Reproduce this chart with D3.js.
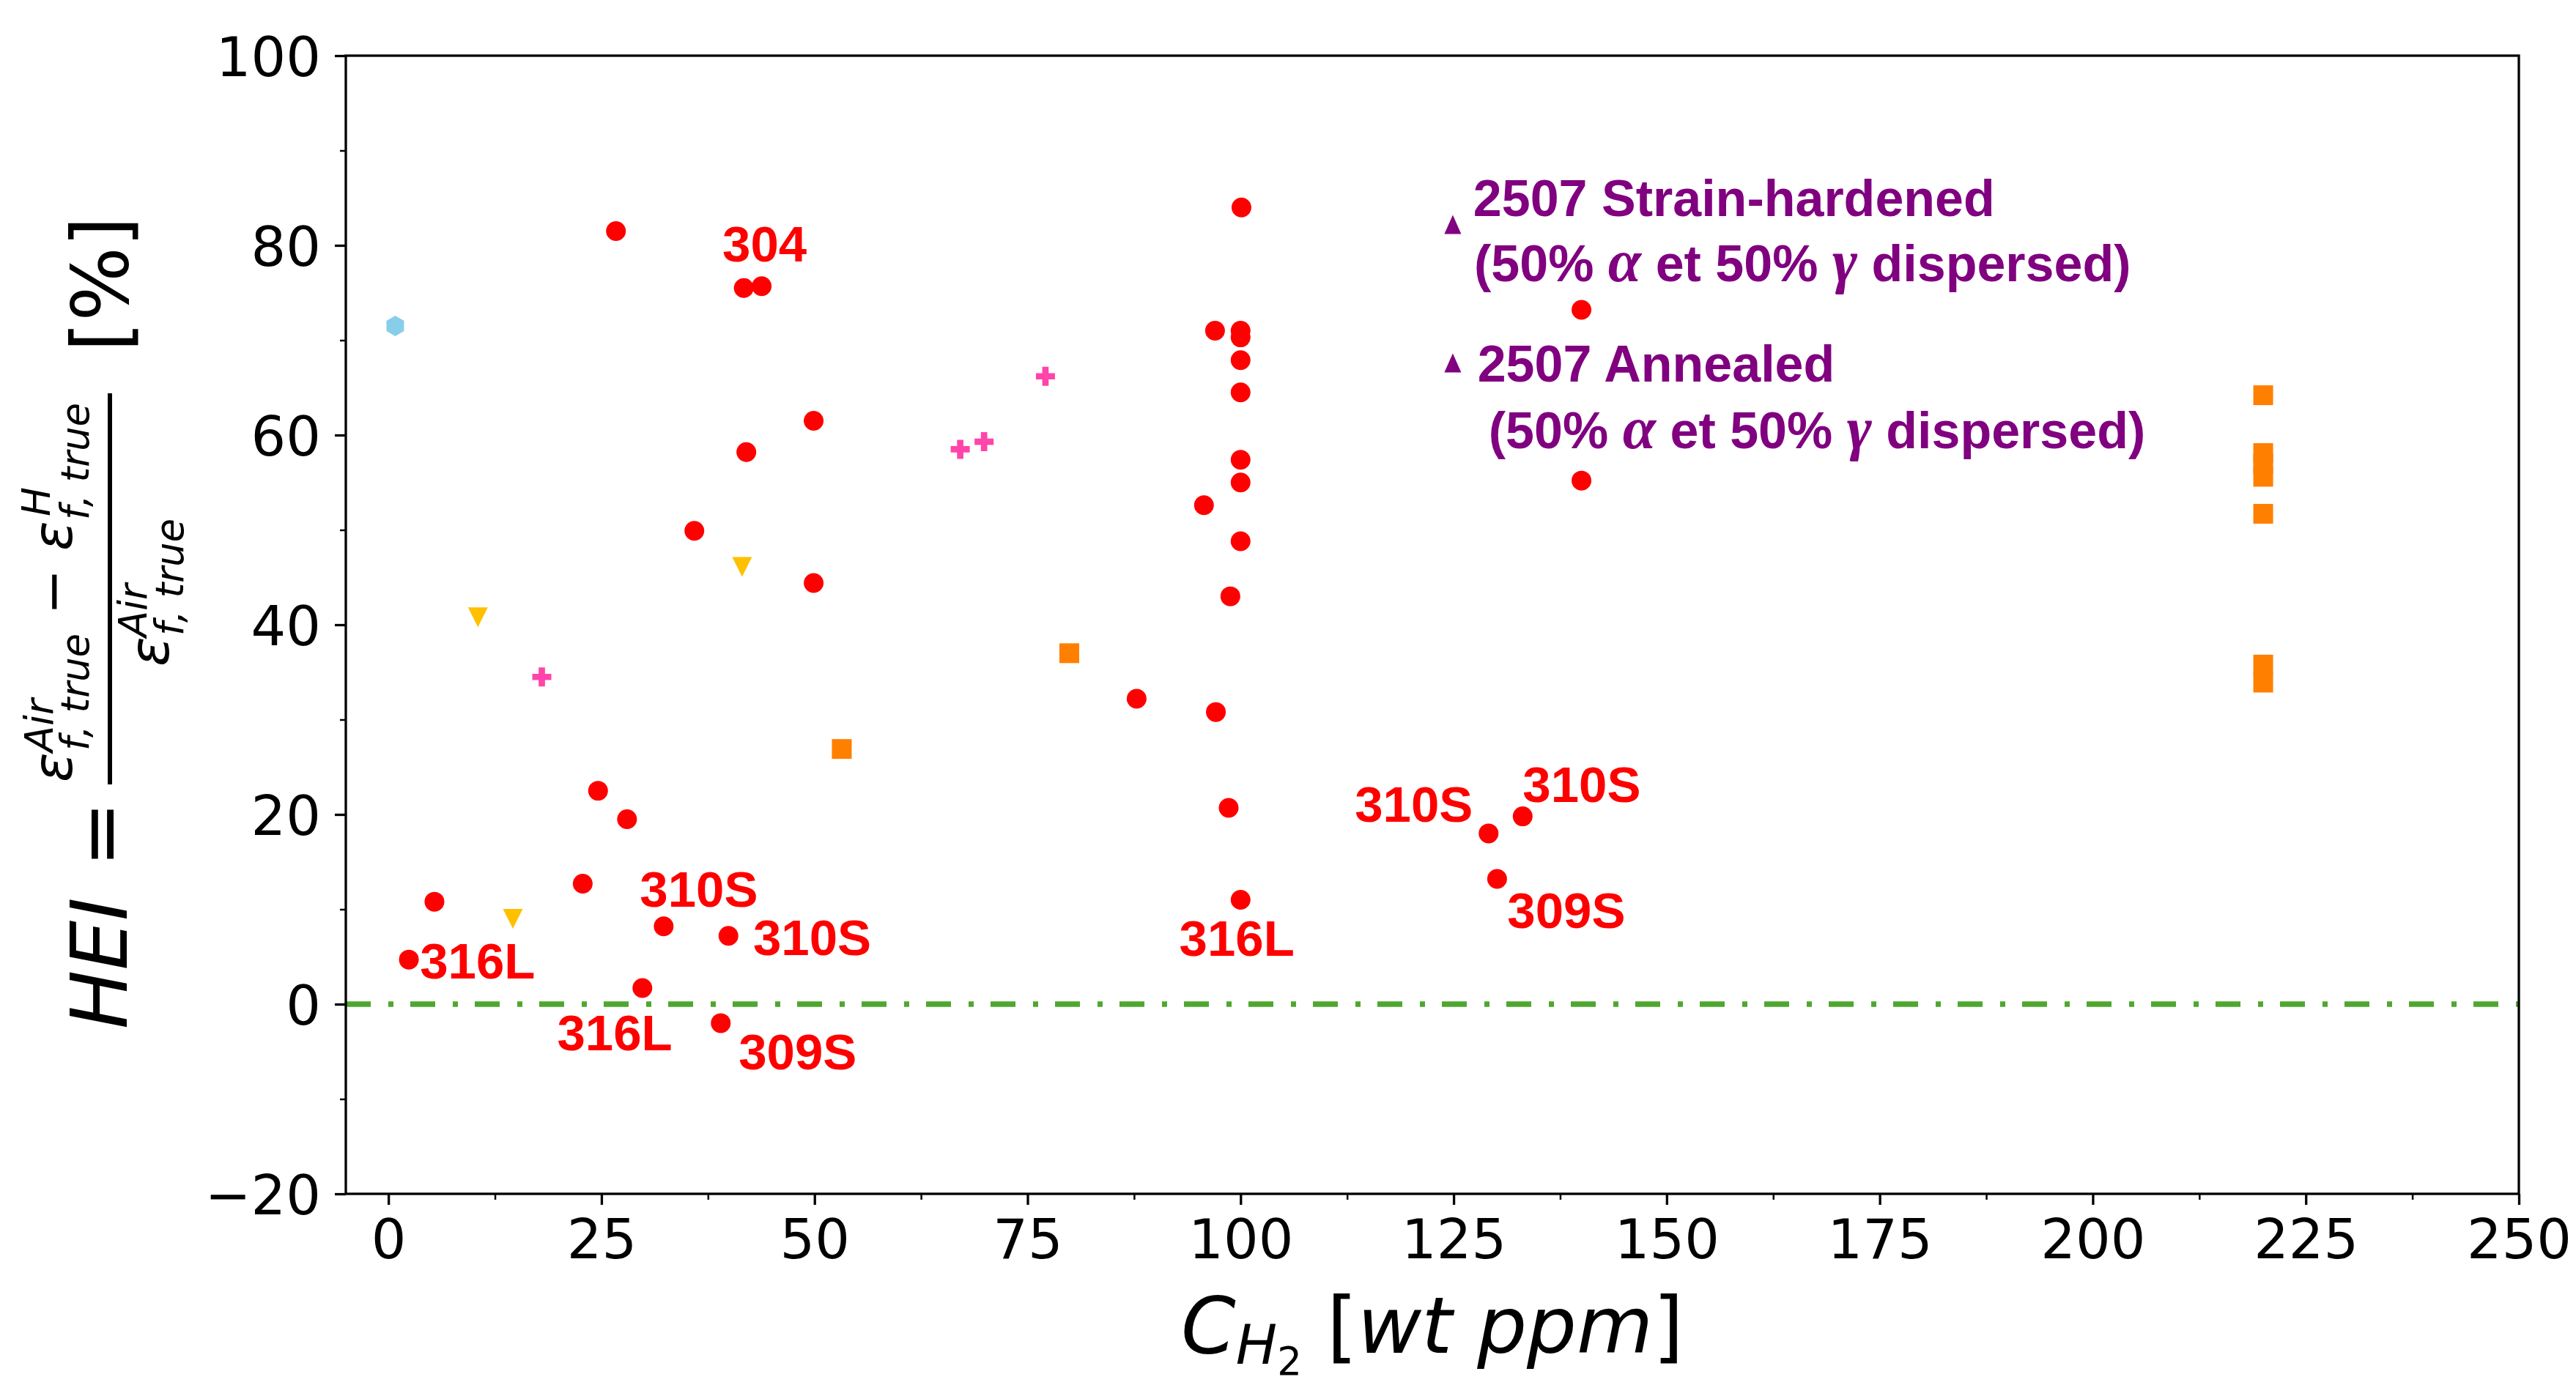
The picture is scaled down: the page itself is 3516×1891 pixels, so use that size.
<!DOCTYPE html>
<html>
<head>
<meta charset="utf-8">
<script src="https://cdn.jsdelivr.net/npm/d3@7"></script>
<style>
body { margin: 0; background: #fff; }
</style>
</head>
<body>
<script>
const W = 3516, H = 1891;

const xTicks = [0, 25, 50, 75, 100, 125, 150, 175, 200, 225, 250];
const xMinor = [12.5, 37.5, 62.5, 87.5, 112.5, 137.5, 162.5, 187.5, 212.5, 237.5];
const yTicks = [-20, 0, 20, 40, 60, 80, 100];
const yMinor = [-10, 10, 30, 50, 70, 90];

// [C_H2 wt ppm, HEI %]
const redCircles = [
    [26.7, 81.5], [41.7, 75.5], [43.8, 75.7], [42.0, 58.2], [49.9, 61.5],
    [35.9, 49.9], [49.9, 44.4], [24.6, 22.5], [28.0, 19.5], [22.8, 12.7],
    [5.4, 10.8], [2.4, 4.7], [32.3, 8.2], [39.9, 7.2], [29.8, 1.7], [39.0, -2.0],
    [100.1, 84.0], [97.0, 71.0], [100.0, 71.0], [100.0, 70.3], [100.0, 67.9],
    [100.0, 64.5], [140.0, 73.2], [100.0, 57.4], [100.0, 55.0], [140.0, 55.2],
    [95.7, 52.6], [100.0, 48.8], [98.8, 43.0], [87.8, 32.2], [97.1, 30.8],
    [98.6, 20.7], [100.0, 11.0], [129.1, 18.0], [133.1, 19.8], [130.1, 13.2]
];
const blueHex = [[0.8, 71.5]];
const yellowTri = [[10.5, 40.8], [41.5, 46.1], [14.6, 9.0]];
const pinkPlus = [[18.0, 34.5], [67.1, 58.5], [69.9, 59.3], [77.1, 66.2]];
const orangeSq = [
    [53.2, 26.9], [79.9, 37.0], [220, 64.2], [220, 58.1], [220, 57.0],
    [220, 55.6], [220, 51.7], [220, 35.8], [220, 33.9]
];
const purpleTri = [[124.9, 82.2], [124.9, 67.6]];

// grade labels: [text, x, y] in data units (left edge, baseline)
const gradeLabels = [
    ['304', 39.2, 78.3], ['316L', 3.7, 2.7], ['310S', 29.5, 10.3],
    ['310S', 42.8, 5.2], ['316L', 19.8, -4.9], ['309S', 41.1, -6.9],
    ['316L', 92.8, 5.1], ['310S', 113.4, 19.2], ['310S', 133.1, 21.3],
    ['309S', 131.3, 8.0]
];
// duplex notes: [pieces, x, y]; odd pieces are greek letters
const duplexNotes = [
    [['2507 Strain-hardened'], 127.3, 83.1],
    [['(50% ', 'α', ' et 50% ', 'γ', ' dispersed)'], 127.4, 76.2],
    [['2507 Annealed'], 127.8, 65.6],
    [['(50% ', 'α', ' et 50% ', 'γ', ' dispersed)'], 129.1, 58.6]
];

function polyPath(pts) {
    return 'M' + pts.map(p => p.join(',')).join('L') + 'Z';
}

function triPath(w, h, down) {
    const s = down ? -1 : 1;
    return polyPath([[0, -s * h / 2], [-w / 2, s * h / 2], [w / 2, s * h / 2]]);
}

function hexPath(rx, ry) {
    const pts = [];
    for (let i = 0; i < 6; i++) {
        const a = Math.PI / 2 + i * Math.PI / 3;
        pts.push([rx * Math.cos(a) / Math.cos(Math.PI / 6), -ry * Math.sin(a)]);
    }
    return polyPath(pts);
}

function drawMarks(g, data, path, color, x, y) {
    g.selectAll(null)
        .data(data)
        .enter()
        .append('path')
        .attr('d', path)
        .attr('fill', color)
        .attr('transform', d => `translate(${x(d[0])},${y(d[1])})`);
}

function put(g, str, lx, ly, size, italic, anchor) {
    return g.append('text')
        .attr('x', lx)
        .attr('y', ly)
        .attr('font-family', 'DejaVu Sans')
        .attr('font-size', size)
        .attr('font-style', italic ? 'italic' : 'normal')
        .attr('text-anchor', anchor || 'start')
        .text(str);
}

function main() {
    const svg = d3.select('body')
        .append('svg')
        .attr('width', W)
        .attr('height', H);

    svg.append('rect').attr('width', W).attr('height', H).attr('fill', '#fff');

    const x = d3.scaleLinear().domain([-5, 250]).range([472, 3438]);
    const y = d3.scaleLinear().domain([-20, 100]).range([1630, 76]);

    // zero line
    svg.append('line')
        .attr('x1', x(-5)).attr('x2', x(250))
        .attr('y1', y(0)).attr('y2', y(0))
        .attr('stroke', '#4ea72e')
        .attr('stroke-width', 7.5)
        .attr('stroke-dasharray', '34,24,7,23');

    const marks = svg.append('g');
    drawMarks(marks, blueHex, hexPath(12, 14), '#87ceeb', x, y);
    drawMarks(marks, yellowTri, triPath(27, 27, true), '#ffc000', x, y);
    drawMarks(marks, pinkPlus, d3.symbol(d3.symbolCross, 375)(), '#ff44aa', x, y);
    drawMarks(marks, orangeSq, d3.symbol(d3.symbolSquare, 729)(), '#ff7f00', x, y);
    drawMarks(marks, purpleTri, triPath(23, 26, false), '#800080', x, y);
    drawMarks(marks, redCircles, d3.symbol(d3.symbolCircle, 572)(), '#ff0000', x, y);

    svg.append('g')
        .selectAll('text')
        .data(gradeLabels)
        .enter()
        .append('text')
        .attr('x', d => x(d[1]))
        .attr('y', d => y(d[2]))
        .attr('font-family', 'Liberation Sans, Arial, sans-serif')
        .attr('font-weight', 'bold')
        .attr('font-size', 69)
        .attr('fill', '#ff0000')
        .text(d => d[0]);

    const notes = svg.append('g')
        .selectAll('text')
        .data(duplexNotes)
        .enter()
        .append('text')
        .attr('x', d => x(d[1]))
        .attr('y', d => y(d[2]))
        .attr('font-family', 'Liberation Sans, Arial, sans-serif')
        .attr('font-weight', 'bold')
        .attr('font-size', 70)
        .attr('fill', '#800080')
        .attr('xml:space', 'preserve');
    notes.selectAll('tspan')
        .data(d => d[0])
        .enter()
        .append('tspan')
        .attr('font-family', (d, i) => i % 2 ? 'Liberation Serif, serif' : null)
        .attr('font-style', (d, i) => i % 2 ? 'italic' : null)
        .attr('font-size', (d, i) => i % 2 ? 82 : null)
        .text(d => d);

    // axes
    const styleAxis = (g, w) => {
        g.select('.domain').remove();
        g.selectAll('.tick line').attr('stroke', '#000').attr('stroke-width', w);
        g.attr('font-family', 'DejaVu Sans').attr('font-size', 75);
        g.selectAll('.tick text').attr('fill', '#000');
    };

    svg.append('g')
        .attr('transform', `translate(0,${y(-20)})`)
        .call(d3.axisBottom(x).tickValues(xTicks).tickSize(15).tickPadding(20).tickFormat(d3.format('d')))
        .call(g => styleAxis(g, 3.3));
    svg.append('g')
        .attr('transform', `translate(0,${y(-20)})`)
        .call(d3.axisBottom(x).tickValues(xMinor).tickSize(8).tickFormat(''))
        .call(g => styleAxis(g, 2.5));
    svg.append('g')
        .attr('transform', `translate(${x(-5)},0)`)
        .call(d3.axisLeft(y).tickValues(yTicks).tickSize(15).tickPadding(19))
        .call(g => styleAxis(g, 3.3))
        .call(g => g.selectAll('.tick text').attr('dy', '0.36em'));
    svg.append('g')
        .attr('transform', `translate(${x(-5)},0)`)
        .call(d3.axisLeft(y).tickValues(yMinor).tickSize(8).tickFormat(''))
        .call(g => styleAxis(g, 2.5));

    // frame
    svg.append('rect')
        .attr('x', x(-5)).attr('y', y(100))
        .attr('width', x(250) - x(-5)).attr('height', y(-20) - y(100))
        .attr('fill', 'none')
        .attr('stroke', '#000')
        .attr('stroke-width', 3.3);

    // x label: C_{H_2} [wt ppm]
    const xl = svg.append('text')
        .attr('x', (x(-5) + x(250)) / 2)
        .attr('y', 1847)
        .attr('text-anchor', 'middle')
        .attr('font-family', 'DejaVu Sans')
        .attr('font-size', 107)
        .attr('xml:space', 'preserve');
    xl.append('tspan').attr('font-style', 'italic').text('C');
    xl.append('tspan').attr('font-style', 'italic').attr('font-size', 75).attr('dy', 15).text('H');
    xl.append('tspan').attr('font-size', 53).attr('dy', 15).text('2');
    xl.append('tspan').attr('dy', -30).text(' [');
    xl.append('tspan').attr('font-style', 'italic').text('wt ppm');
    xl.append('tspan').text(']');

    // y label: HEI = (eps_air - eps_H) / eps_air [%]
    const yl = svg.append('g').attr('transform', 'rotate(-90)');
    put(yl, 'HEI', -1405, 173, 107, true);
    put(yl, '=', -1139, 173, 107, false, 'middle');
    put(yl, '[%]', -388, 174, 107, false, 'middle');
    // numerator
    put(yl, 'ε', -1068, 98, 75, true);
    put(yl, 'Air', -1027, 72, 53, true);
    put(yl, 'f, true', -1025, 121, 53, true);
    put(yl, '−', -808, 98, 75, false, 'middle');
    put(yl, 'ε', -752, 98, 75, true);
    put(yl, 'H', -705, 68, 53, true);
    put(yl, 'f, true', -710, 121, 53, true);
    // denominator
    put(yl, 'ε', -910, 230, 75, true);
    put(yl, 'Air', -870, 200, 53, true);
    put(yl, 'f, true', -868, 250, 53, true);
    svg.append('rect')
        .attr('x', 147).attr('y', 537)
        .attr('width', 6).attr('height', 534)
        .attr('fill', '#000');
}

main();
</script>
</body>
</html>
